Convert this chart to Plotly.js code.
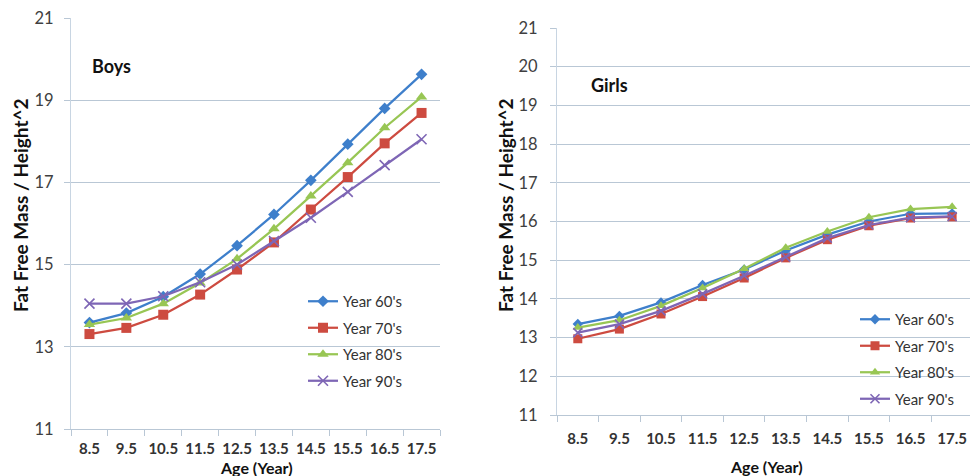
<!DOCTYPE html>
<html>
<head>
<meta charset="utf-8">
<script src="https://cdn.plot.ly/plotly-3.0.1.min.js"></script>
<style>html,body{margin:0;padding:0;background:#fff;}#chart{width:970px;height:476px;}</style>
</head>
<body>
<div id="chart"></div>
<script>
const ages = ['8.5','9.5','10.5','11.5','12.5','13.5','14.5','15.5','16.5','17.5'];
const seriesNames = ["Year 60's","Year 70's","Year 80's","Year 90's"];

const boys60 = [13.59, 13.82, 14.22, 14.77, 15.46, 16.22, 17.05, 17.93, 18.80, 19.63];
const boys70 = [13.31, 13.46, 13.78, 14.27, 14.88, 15.54, 16.34, 17.13, 17.95, 18.69];
const boys80 = [13.54, 13.70, 14.05, 14.55, 15.14, 15.87, 16.67, 17.48, 18.33, 19.08];
const boys90 = [14.05, 14.05, 14.23, 14.57, 15.00, 15.57, 16.14, 16.77, 17.42, 18.05];

const girls60 = [13.35, 13.56, 13.91, 14.36, 14.76, 15.25, 15.66, 16.00, 16.20, 16.21];
const girls70 = [12.97, 13.22, 13.61, 14.06, 14.54, 15.06, 15.53, 15.89, 16.09, 16.12];
const girls80 = [13.26, 13.45, 13.82, 14.28, 14.78, 15.32, 15.74, 16.11, 16.32, 16.38];
const girls90 = [13.13, 13.35, 13.69, 14.13, 14.60, 15.08, 15.57, 15.91, 16.10, 16.13];

const colors = ['#3E7FCB', '#CD4B40', '#98C654', '#7E66B5'];
const symbols = ['diamond', 'square', 'triangle-up', 'x-thin-open'];
const sizesL = [9, 10, 10, 10];
const sizesR = [8, 9, 9, 9];

function mk(y, i, xa, ya, leg, sizes) {
  return {
    type: 'scatter', mode: 'lines+markers', x: ages, y: y,
    name: seriesNames[i], xaxis: xa, yaxis: ya, legend: leg,
    legendgroup: leg + i,
    line: {color: colors[i], width: 2.25},
    marker: {symbol: symbols[i], size: sizes[i], color: colors[i],
             line: {color: colors[i], width: symbols[i] === 'x-thin-open' ? 1.6 : 0}}
  };
}

const boys = [boys60, boys70, boys80, boys90];
const girls = [girls60, girls70, girls80, girls90];
const data = [];
boys.forEach((s, i) => data.push(mk(s, i, 'x', 'y', 'legend', sizesL)));
girls.forEach((s, i) => data.push(mk(s, i, 'x2', 'y2', 'legend2', sizesR)));

const W = 970, H = 476;
const gridC = '#b9c7d5';
const FF = 'Lato, sans-serif';
const tickFontY = {family: FF, size: 16.5, color: '#404040'};
const tickFontX = {family: FF, size: 15, color: '#333333', weight: 'bold'};
const legFont = {family: FF, size: 15, color: '#333333'};
const boldDark = (s) => ({family: FF, size: s, color: '#111111', weight: 'bold'});

function xax(domain, range, standoff) {
  return {domain: domain, type: 'category', range: range, tickson: 'boundaries', tickangle: 0,
    ticks: 'outside', ticklen: 6, tickcolor: gridC, showline: true, linecolor: gridC,
    showgrid: false, zeroline: false, tickfont: tickFontX, ticklabelstandoff: standoff, fixedrange: true};
}
function yax(domain, dtick, anchor, standoff) {
  return {domain: domain, range: [11, 21], tick0: 11, dtick: dtick, anchor: anchor,
    ticks: 'outside', ticklen: 6, tickcolor: gridC, showline: true, linecolor: '#c8d5e2',
    showgrid: true, gridcolor: gridC, gridwidth: 1, zeroline: false,
    tickfont: tickFontY, ticklabelstandoff: standoff, fixedrange: true};
}

const layout = {
  width: W, height: H,
  margin: {l: 0, r: 0, t: 0, b: 0},
  paper_bgcolor: '#ffffff', plot_bgcolor: '#ffffff',
  showlegend: true,
  xaxis: Object.assign(xax([71 / W, 440 / W], [-0.5, 9.5], 6), {anchor: 'y'}),
  yaxis: yax([1 - 429 / H, 1 - 18 / H], 2, 'x', 7),
  xaxis2: Object.assign(xax([557 / W, 1], [-0.5, 9.43], 10), {anchor: 'y2'}),
  yaxis2: yax([1 - 415 / H, 1 - 28 / H], 1, 'x2', 9),
  legend: {x: 303 / W, y: 1 - 285 / H, xanchor: 'left', yanchor: 'top',
    bgcolor: 'rgba(0,0,0,0)', font: legFont, traceorder: 'grouped', tracegroupgap: 4, itemwidth: 30},
  legend2: {x: 855 / W, y: 1 - 303 / H, xanchor: 'left', yanchor: 'top',
    bgcolor: 'rgba(0,0,0,0)', font: legFont, traceorder: 'grouped', tracegroupgap: 4, itemwidth: 30},
  annotations: [
    {text: 'Boys', xref: 'paper', yref: 'paper', x: 90 / W, y: 1 - 66 / H, xanchor: 'left', yanchor: 'middle',
     showarrow: false, font: boldDark(18)},
    {text: 'Girls', xref: 'paper', yref: 'paper', x: 589 / W, y: 1 - 85 / H, xanchor: 'left', yanchor: 'middle',
     showarrow: false, font: boldDark(18)},
    {text: 'Fat Free Mass / Height^2', xref: 'paper', yref: 'paper', x: 20 / W, y: 1 - 205 / H,
     xanchor: 'center', yanchor: 'middle', textangle: -90, showarrow: false, font: boldDark(19)},
    {text: 'Fat Free Mass / Height^2', xref: 'paper', yref: 'paper', x: 505 / W, y: 1 - 205 / H,
     xanchor: 'center', yanchor: 'middle', textangle: -90, showarrow: false, font: boldDark(19)},
    {text: 'Age (Year)', xref: 'paper', yref: 'paper', x: 256 / W, y: 1 - 467 / H,
     xanchor: 'center', yanchor: 'middle', showarrow: false, font: boldDark(16)},
    {text: 'Age (Year)', xref: 'paper', yref: 'paper', x: 766 / W, y: 1 - 466 / H,
     xanchor: 'center', yanchor: 'middle', showarrow: false, font: boldDark(16)}
  ]
};

Plotly.newPlot('chart', data, layout, {displayModeBar: false, staticPlot: true});
</script>
</body>
</html>
